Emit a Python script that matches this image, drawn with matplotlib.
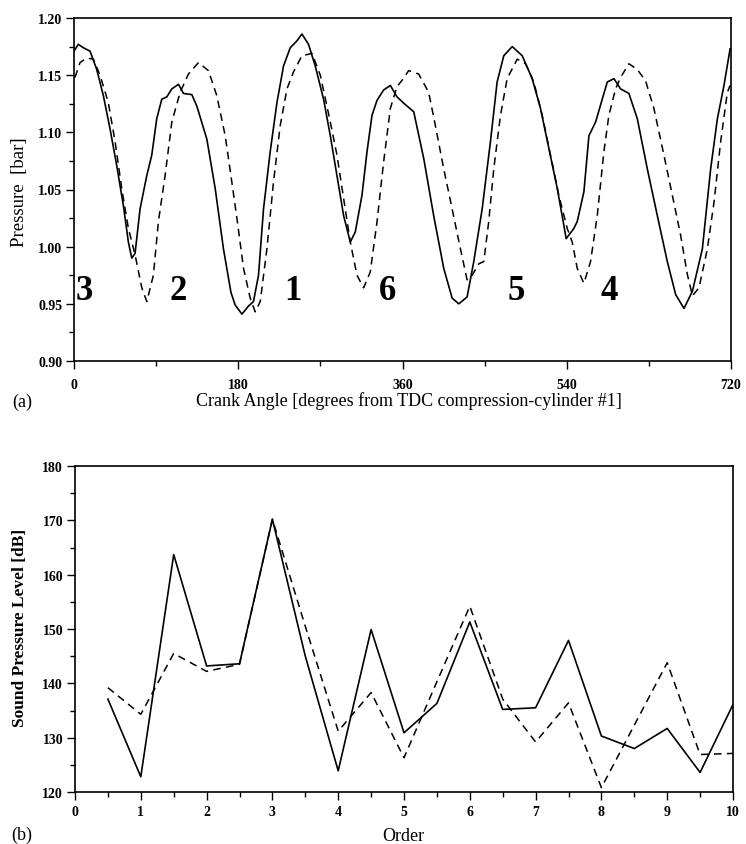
import matplotlib
matplotlib.use('Agg')
import matplotlib.pyplot as plt
from matplotlib.ticker import MultipleLocator, FormatStrFormatter

plt.rcParams['font.family'] = ['Liberation Serif', 'DejaVu Serif']

# ---------------- data: panel (a) ----------------
solid_deg = [0, 4.7, 10.2, 17.6, 24.9, 32.2, 39.5, 46.8, 54.1, 59.6, 63.3, 66.9, 72.4, 79.7,
             85.2, 90.7, 96.2, 101.7, 107.2, 114.5, 120, 129.1, 134.6, 145.6, 154.7, 163.8,
             172, 176.6, 184, 191.2, 196.7, 202.2, 207.7, 215, 222.4, 229.6, 237, 244.3,
             249.8, 257, 264.4, 273.5, 280.9, 288.2, 295.5, 302.8, 308.3, 315.6, 321.1,
             326.6, 332.1, 339.3, 346.7, 354, 362, 372.3, 383.3, 394.2, 405.2, 414.4, 421.7,
             430.8, 438.1, 447.3, 456.4, 463.7, 471, 480.2, 491.2, 502.1, 511.2, 520.4,
             529.6, 539.4, 547.8, 551.5, 558.8, 564.3, 571.6, 578.9, 584.4, 591.7, 599,
             608.1, 617.3, 628.3, 639.3, 650.2, 659.4, 668.5, 677.7, 688.6, 697.7, 705.1,
             712.3, 719]
solid_p = [1.171, 1.177, 1.174, 1.171, 1.155, 1.132, 1.103, 1.071, 1.036, 1.004, 0.990, 0.994,
           1.033, 1.062, 1.080, 1.112, 1.129, 1.131, 1.138, 1.142, 1.134, 1.133, 1.123, 1.094,
           1.051, 0.998, 0.960, 0.949, 0.941, 0.948, 0.952, 0.975, 1.033, 1.083, 1.126, 1.158,
           1.174, 1.180, 1.186, 1.177, 1.158, 1.129, 1.097, 1.062, 1.027, 1.004, 1.013, 1.045,
           1.083, 1.115, 1.128, 1.137, 1.141, 1.131, 1.125, 1.118, 1.077, 1.027, 0.981, 0.955,
           0.950, 0.956, 0.987, 1.033, 1.092, 1.144, 1.167, 1.175, 1.167, 1.147, 1.121, 1.086,
           1.051, 1.007, 1.016, 1.022, 1.048, 1.097, 1.109, 1.129, 1.144, 1.147, 1.138, 1.134,
           1.112, 1.068, 1.027, 0.987, 0.958, 0.946, 0.961, 0.998, 1.068, 1.112, 1.141, 1.173]

dash_deg = [1.1, 6.6, 13.9, 21.2, 28.5, 37.6, 45, 52.3, 59.6, 66.9, 74.3, 79.8, 87, 92.5, 99.8,
            107.2, 116.3, 125.4, 136.4, 147.3, 156.5, 165.7, 172, 178.5, 185.8, 193.1, 198.6,
            204.1, 211.4, 218.7, 226, 233.4, 240.6, 249.8, 260.8, 269.9, 280.9, 288.2, 295.5,
            302.8, 310.1, 317.4, 324.7, 332.1, 339.3, 346.7, 354, 360, 366.8, 377.7, 388.7,
            396, 405.2, 414.4, 423.5, 430.8, 436.3, 443.6, 449.1, 454.5, 460, 467.4, 474.7,
            485.7, 494.8, 503.9, 513.1, 522.2, 531.3, 540.5, 546, 551.5, 558.8, 566.1, 573.4,
            580.7, 586.2, 593.5, 599, 608.1, 617.3, 626.4, 635.5, 646.5, 655.7, 664.8, 672.1,
            677.7, 684.9, 694.1, 701.4, 708.7, 716, 719]
dash_p = [1.148, 1.161, 1.165, 1.164, 1.150, 1.126, 1.092, 1.051, 1.016, 0.993, 0.964, 0.952,
          0.975, 1.022, 1.062, 1.109, 1.135, 1.151, 1.161, 1.154, 1.132, 1.097, 1.062, 1.025,
          0.981, 0.955, 0.943, 0.952, 0.998, 1.057, 1.106, 1.138, 1.153, 1.167, 1.169, 1.150,
          1.109, 1.080, 1.042, 1.004, 0.975, 0.964, 0.978, 1.022, 1.074, 1.121, 1.140, 1.146,
          1.154, 1.151, 1.135, 1.106, 1.068, 1.033, 0.998, 0.971, 0.975, 0.985, 0.987, 1.022,
          1.068, 1.115, 1.147, 1.164, 1.160, 1.144, 1.115, 1.080, 1.045, 1.016, 1.004, 0.981,
          0.968, 0.987, 1.027, 1.083, 1.115, 1.138, 1.148, 1.160, 1.155, 1.145, 1.121, 1.080,
          1.045, 1.010, 0.976, 0.957, 0.964, 0.998, 1.039, 1.092, 1.135, 1.141]

cyl_labels = ['3', '2', '1', '6', '5', '4']
cyl_x = [11, 114, 240, 344, 485, 587]

# ---------------- data: panel (b) ----------------
order = [0.5, 1.0, 1.5, 2.0, 2.5, 3.0, 3.5, 4.0, 4.5, 5.0,
         5.5, 6.0, 6.5, 7.0, 7.5, 8.0, 8.5, 9.0, 9.5, 10.0]
spl_solid = [137.1, 122.8, 163.7, 143.2, 143.6, 170.2, 145.0, 123.9, 149.9, 130.9,
             136.3, 151.3, 135.2, 135.5, 147.9, 130.3, 128.0, 131.7, 123.6, 136.1]
spl_dash = [139.2, 134.3, 145.5, 142.2, 143.5, 170.2, 150.5, 131.2, 138.3, 126.3,
            140.3, 154.2, 137.1, 129.2, 136.4, 120.8, 132.3, 143.8, 126.9, 127.1]

W, H = 746, 845
fig = plt.figure(figsize=(W / 100, H / 100), dpi=100)


def ax_px(l, t, r, b):
    return fig.add_axes([l / W, 1 - b / H, (r - l) / W, (b - t) / H])


def style(ax, xpad):
    for s in ax.spines.values():
        s.set_linewidth(1.2)
    ax.tick_params(which='both', direction='out', top=False, right=False, width=1.0)
    ax.tick_params(which='major', length=5.5)
    ax.tick_params(which='minor', length=3.5)
    ax.tick_params(axis='x', pad=xpad)
    ax.tick_params(axis='y', pad=3)
    for lab in ax.get_xticklabels() + ax.get_yticklabels():
        lab.set_fontweight('bold')
        lab.set_fontsize(10)


dash_style = (0, (5, 3.5))

# ---- panel (a)
ax1 = ax_px(74, 19, 731, 362)
ax1.plot(solid_deg, solid_p, color='black', lw=1.2)
ax1.plot(dash_deg, dash_p, color='black', lw=1.1, ls=dash_style)
ax1.set_xlim(0, 720)
ax1.set_ylim(0.90, 1.20)
ax1.xaxis.set_major_locator(MultipleLocator(180))
ax1.xaxis.set_minor_locator(MultipleLocator(90))
ax1.yaxis.set_major_locator(MultipleLocator(0.05))
ax1.yaxis.set_minor_locator(MultipleLocator(0.025))
ax1.yaxis.set_major_formatter(FormatStrFormatter('%.2f'))
style(ax1, 7)
for lab, x in zip(cyl_labels, cyl_x):
    ax1.text(x, 0.962, lab, fontsize=25, fontweight='bold', ha='center', va='center')

# ---- panel (b)
ax2 = ax_px(75, 467, 733, 793)
ax2.plot(order, spl_solid, color='black', lw=1.2)
ax2.plot(order, spl_dash, color='black', lw=1.1, ls=dash_style)
ax2.set_xlim(0, 10)
ax2.set_ylim(120, 180)
ax2.xaxis.set_major_locator(MultipleLocator(1))
ax2.xaxis.set_minor_locator(MultipleLocator(0.5))
ax2.yaxis.set_major_locator(MultipleLocator(10))
ax2.yaxis.set_minor_locator(MultipleLocator(5))
style(ax2, 4)

# ---- labels
fig.text(20 / W, 1 - 192 / H, 'Pressure  [bar]', rotation=90, fontsize=13.5,
         ha='center', va='center')
fig.text(20 / W, 1 - 628 / H, 'Sound Pressure Level [dB]', rotation=90, fontsize=12.5,
         fontweight='bold', ha='center', va='center')
fig.text(22 / W, 1 - 402 / H, '(a)', fontsize=13, ha='center', va='center')
fig.text(409 / W, 1 - 401 / H, 'Crank Angle [degrees from TDC compression-cylinder #1]',
         fontsize=13, ha='center', va='center')
fig.text(22 / W, 1 - 835 / H, '(b)', fontsize=13, ha='center', va='center')
fig.text(403 / W, 1 - 837 / H, 'Order', fontsize=13, ha='center', va='center')

fig.savefig('out.png', dpi=100)
